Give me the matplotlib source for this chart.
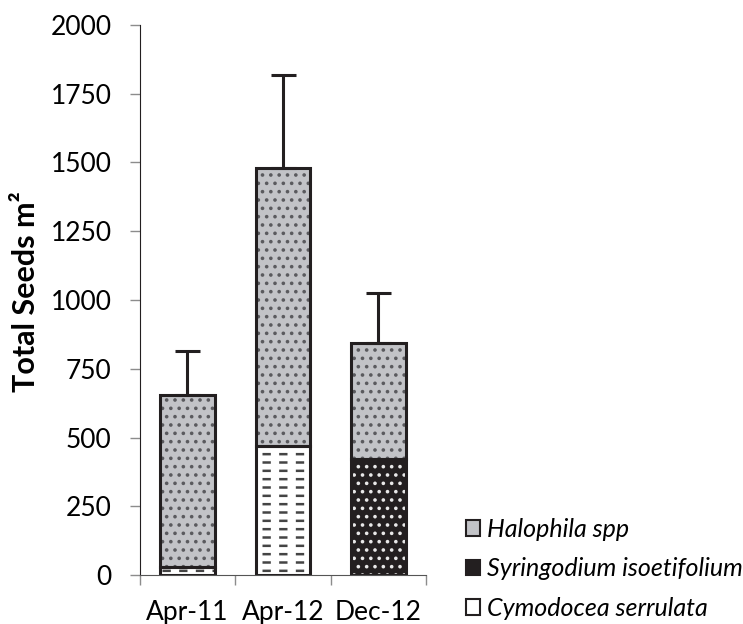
import matplotlib
matplotlib.use('Agg')
import matplotlib.pyplot as plt
import matplotlib.patches as mpatches
import numpy as np

# seed bank totals per sampling time, stacked by species
periods = ['Apr-11', 'Apr-12', 'Dec-12']
cymodocea = [30, 469, 0]
syringodium = [0, 0, 423]
halophila = [623, 1011, 420]
err_up = [163, 338, 184]
yticks = [0, 250, 500, 750, 1000, 1250, 1500, 1750, 2000]

plt.rcParams['font.family'] = ['Lato', 'DejaVu Sans']
plt.rcParams['hatch.linewidth'] = 1.4

dark = '#231f20'
grey_fill = '#c2c3c7'
tick_grey = '#8c8c8c'

fig = plt.figure(figsize=(7.43, 6.24), dpi=100)
ax = fig.add_axes([0.1878, 0.0785, 0.3856, 0.8815])

x = np.arange(len(periods))
w = 0.57
cym = np.array(cymodocea)
syr = np.array(syringodium)
hal = np.array(halophila)
tot = cym + syr + hal

# Cymodocea: white with dashes (lines broken up by a white vertical hatch)
with plt.rc_context({'hatch.linewidth': 1.8}):
    ax.bar(x, cym, w, color='white', edgecolor='#444444', hatch='--', linewidth=0)
with plt.rc_context({'hatch.linewidth': 6}):
    gap = ax.bar(x, cym, w, color='none', edgecolor='white', hatch='|', linewidth=0)
for p in gap:
    if hasattr(p, 'set_hatch_linewidth'):
        p.set_hatch_linewidth(6)
# Syringodium: black with white dots
ax.bar(x, syr, w, bottom=cym, color=dark, edgecolor='#e8e8e8', hatch='..', linewidth=0)
# Halophila: grey with dark dots
ax.bar(x, hal, w, bottom=cym + syr, color=grey_fill, edgecolor='#5a5a5e', hatch='..', linewidth=0)

# outlines on top of the hatched layers
for vals, base in [(cym, 0), (syr, cym), (hal, cym + syr)]:
    v = np.array(vals)
    keep = v > 0
    ax.bar(x[keep], v[keep], w, bottom=np.broadcast_to(base, v.shape)[keep],
           fill=False, edgecolor=dark, linewidth=2.2)

ax.errorbar(x, tot, yerr=[np.zeros(len(x)), err_up], fmt='none',
            ecolor=dark, elinewidth=2.2, capsize=9, capthick=2.2, zorder=1)

ax.set_ylim(0, 2000)
ax.set_xlim(-0.5, 2.5)
ax.set_yticks(yticks)
ax.set_yticklabels([str(v) for v in yticks])
ax.tick_params(axis='y', length=7, width=1, color=tick_grey, pad=13, labelsize=19)

ax.set_xticks([-0.5, 0.5, 1.5, 2.5])
ax.set_xticklabels([])
ax.set_xticks(x, minor=True)
ax.set_xticklabels(periods, minor=True)
ax.tick_params(axis='x', which='major', length=7, width=1, color=tick_grey)
ax.tick_params(axis='x', which='minor', length=0, pad=18, labelsize=19)

for s in ['top', 'right']:
    ax.spines[s].set_visible(False)
ax.spines['left'].set_color(dark)
ax.spines['bottom'].set_color('#555555')

ax.set_ylabel('Total Seeds m²', fontsize=22, fontweight='bold', labelpad=8)
ax.yaxis.label.set_y(0.515)

# legend, top entry first as stacked
h_hal = mpatches.Patch(facecolor=grey_fill, edgecolor=dark, linewidth=1.5)
h_syr = mpatches.Patch(facecolor=dark, edgecolor=dark, linewidth=1.5)
h_cym = mpatches.Patch(facecolor='white', edgecolor=dark, linewidth=1.5)
leg = fig.legend([h_hal, h_syr, h_cym],
                 ['Halophila spp', 'Syringodium isoetifolium', 'Cymodocea serrulata'],
                 loc='upper left', bbox_to_anchor=(0.627, 0.170), frameon=False,
                 prop={'style': 'italic', 'size': 18}, handlelength=0.56,
                 handleheight=0.56, handletextpad=0.3, labelspacing=0.66,
                 borderaxespad=0, borderpad=0)

fig.savefig('out.png', dpi=100)
